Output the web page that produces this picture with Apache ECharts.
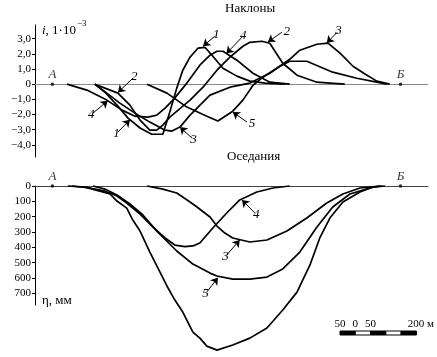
<!DOCTYPE html>
<html><head><meta charset="utf-8">
<script src="https://cdn.jsdelivr.net/npm/echarts@6/dist/echarts.min.js"></script>
<style>html,body{margin:0;padding:0;background:#fff}#c{width:437px;height:357px}</style>
</head><body><div id="c"></div>
<script>
// ---- Data (x in metres from point A) ----
// Tilts (Наклоны), i × 10^-3
const tiltX1 = [134,166,207,239,277,314,349,371,393,412,435,460,482,507,539,583,624,672,735];
const tiltY1 = [0,-0.53,-1.45,-2.24,-2.89,-3.3,-3.3,-1.84,-0.26,0.92,1.78,2.37,2.43,1.84,1.05,0.53,0.2,0.07,0];
const tiltX2 = [134,166,207,245,277,308,330,349,371,435,476,520,561,602,624,662,687,728,773,836,877,924];
const tiltY2 = [0,-0.26,-0.59,-1.38,-2.37,-3.03,-3.03,-2.7,-2.17,-1.05,-0.2,0.92,1.78,2.5,2.76,2.83,2.7,1.38,0.59,0.13,0.07,0];
const tiltX3 = [134,172,213,261,308,356,378,403,435,498,561,624,687,750,782,836,871,909,950,984,1025,1066];
const tiltY3 = [0,-0.59,-1.25,-1.91,-2.5,-3.03,-3.09,-2.83,-2.04,-0.72,-0.2,0.07,0.72,1.64,2.24,2.63,2.7,2.04,1.18,0.72,0.2,0];
const tiltX4 = [46,109,172,220,261,302,330,356,381,425,466,498,520,539,583,634,687,750];
const tiltY4 = [0,-0.39,-1.05,-1.71,-2.11,-2.17,-2.04,-1.58,-1.05,0.07,1.25,1.91,2.17,2.17,1.58,0.72,0.13,0];
const tiltX5 = [299,362,425,488,523,570,602,634,665,719,750,804,886,962,1025,1057];
const tiltY5 = [0,-0.59,-1.51,-2.11,-2.43,-1.78,-1.05,-0.07,0.46,1.18,1.51,1.51,0.79,0.39,0.13,0];

// Subsidence (Оседания), η mm
const subX3 = [299,349,393,435,457,498,520,545,570,624,678,741,804,867,918,972,1035];
const subY3 = [0,20,46,104,137,202,261,307,339,365,352,294,209,111,52,13,0];
const subX4 = [62,119,166,204,235,277,318,356,387,419,444,466,507,551,592,646,697,750];
const subY4 = [0,13,33,65,111,183,268,339,385,395,391,372,274,176,91,39,13,0];
const subX5 = [128,166,204,245,286,330,393,444,498,520,570,624,678,728,782,836,886,940,1013,1051];
const subY5 = [0,20,59,117,189,294,424,509,568,587,607,607,594,541,431,267,137,52,7,0];
const subX7 = [49,103,150,182,204,235,254,277,308,340,362,387,412,444,466,488,520,570,624,678,728,773,814,845,877,918,972,1013,1041];
const subY7 = [0,7,33,52,98,144,222,294,431,561,652,744,822,953,992,1044,1070,1037,992,926,809,692,515,339,209,104,39,7,0];

// Tick labels
const tiltTicks = [-4,-3,-2,-1,0,1,2,3];
const subTicks = [0,100,200,300,400,500,600,700];
const scaleTicks = [-50,0,50,200];
const scaleEdges = [-50,0,50,100,150,200];

// End points A and Б
const pointNames = ['A','Б'];
const pointX = [0,1100];

// Curve annotations: [label, tailX, tailY, tipX, tipY]
const tiltNotes = [
  ['1',513,3.16,476,2.5],
  ['4',599,3.09,550,2.02],
  ['2',725,3.42,681,2.78],
  ['3',900,3.42,867,2.72],
  ['5',615,-2.5,570,-1.84],
  ['2',254,0.39,207,-0.55],
  ['4',128,-1.91,175,-1.1],
  ['1',207,-3.16,245,-2.35],
  ['3',441,-3.55,403,-2.83]
];
const subNotes = [
  ['4',640,176,599,91],
  ['3',551,450,592,352],
  ['5',488,691,523,598],
  ['7',789,874,741,780]
];

// ---- Build ----
const SERIF = '"Liberation Serif","DejaVu Serif",serif';
const zip = (xs, ys) => xs.map((x, i) => [x, ys[i]]);
const fmtTilt = v => v === 0 ? '0' : (v < 0 ? '\u2212' : '') + Math.abs(v).toFixed(1).replace('.', ',');

function curve(xs, ys, gi) {
  return {
    type: 'line', xAxisIndex: gi, yAxisIndex: gi, data: zip(xs, ys),
    symbol: 'none', showSymbol: false, clip: false, animation: false, silent: true,
    lineStyle: { color: '#000', width: 1.7 }
  };
}
function notesLine(notes) {
  return {
    silent: true, animation: false, symbol: ['none', 'arrow'], symbolSize: 7,
    lineStyle: { color: '#000', width: 1, type: 'solid' },
    emphasis: { disabled: true },
    label: { show: true, position: 'start', distance: 2, formatter: p => p.name,
      fontFamily: SERIF, fontStyle: 'italic', fontSize: 13, color: '#000' },
    data: notes.map(n => [{ name: n[0], coord: [n[1], n[2]] }, { coord: [n[3], n[4]] }])
  };
}
function endPoints(gi, notes) {
  return {
    type: 'scatter', xAxisIndex: gi, yAxisIndex: gi, clip: false, animation: false, silent: true,
    symbolSize: 3.5, itemStyle: { color: '#000' },
    label: { show: true, position: 'top', distance: 1, formatter: p => p.name,
      fontFamily: SERIF, fontStyle: 'italic', fontSize: 13, color: '#000' },
    data: pointX.map((x, i) => ({ name: pointNames[i], value: [x, 0] })),
    markLine: notesLine(notes)
  };
}

const xBase = {
  type: 'value', min: -55, max: 1187,
  axisTick: { show: false }, axisLabel: { show: false }, splitLine: { show: false }
};
const yLabel = { fontFamily: SERIF, fontSize: 11, color: '#000', margin: 4 };
const plain = { fontFamily: SERIF, fontSize: 13, fontWeight: 'normal', color: '#000' };

const option = {
  backgroundColor: '#fff',
  animation: false,
  title: [
    { text: 'Наклоны', left: 225, top: 2, padding: 0, textStyle: plain },
    { text: 'Оседания', left: 227, top: 150, padding: 0, textStyle: plain },
    { text: '{it|i}{n|, 1·10}{sup|\u22123}', left: 42, top: 18, padding: 0,
      textStyle: { fontWeight: 'normal', rich: {
        it: { fontFamily: SERIF, fontStyle: 'italic', fontWeight: 'normal', fontSize: 13, color: '#000', lineHeight: 19, verticalAlign: 'bottom' },
        n: { fontFamily: SERIF, fontWeight: 'normal', fontSize: 13, color: '#000', lineHeight: 19, verticalAlign: 'bottom' },
        sup: { fontFamily: SERIF, fontWeight: 'normal', fontSize: 9, color: '#000', verticalAlign: 'top', padding: [1, 0, 0, 1] }
      } } },
    { text: 'η, мм', left: 42, top: 294, padding: 0, textStyle: plain }
  ],
  grid: [
    { left: 35, right: 9, top: 25, height: 132 },
    { left: 35, right: 9, top: 186, height: 119 },
    { left: 340, width: 79, top: 331, height: 4 }
  ],
  xAxis: [
    Object.assign({ gridIndex: 0, axisLine: { onZero: true, lineStyle: { color: '#8a8a8a', width: 1 } } }, xBase),
    Object.assign({ gridIndex: 1, position: 'top', axisLine: { onZero: true, lineStyle: { color: '#444', width: 1 } } }, xBase),
    { gridIndex: 2, type: 'value', min: -50, max: 200, position: 'top',
      axisLine: { show: false }, axisTick: { show: false }, splitLine: { show: false },
      axisLabel: { customValues: scaleTicks, margin: 1, fontFamily: SERIF, fontSize: 11, color: '#000',
        formatter: v => v === 200 ? '{a|200 м}' : String(Math.abs(v)),
        rich: { a: { fontFamily: SERIF, fontSize: 11, color: '#000', padding: [0, 0, 0, 9] } } } }
  ],
  yAxis: [
    { gridIndex: 0, type: 'value', min: -4.8, max: 3.9,
      axisLine: { show: true, onZero: false, lineStyle: { color: '#000', width: 1 } },
      axisTick: { show: true, customValues: tiltTicks, length: 3, lineStyle: { color: '#000' } },
      axisLabel: Object.assign({ customValues: tiltTicks, formatter: fmtTilt }, yLabel),
      splitLine: { show: false } },
    { gridIndex: 1, type: 'value', min: 0, max: 776, inverse: true,
      axisLine: { show: true, onZero: false, lineStyle: { color: '#000', width: 1 } },
      axisTick: { show: true, customValues: subTicks, length: 3, lineStyle: { color: '#000' } },
      axisLabel: Object.assign({ customValues: subTicks, formatter: v => String(v) }, yLabel),
      splitLine: { show: false } },
    { gridIndex: 2, type: 'value', min: 0, max: 1, show: false }
  ],
  series: [
    curve(tiltX1, tiltY1, 0),
    curve(tiltX2, tiltY2, 0),
    curve(tiltX3, tiltY3, 0),
    curve(tiltX4, tiltY4, 0),
    curve(tiltX5, tiltY5, 0),
    endPoints(0, tiltNotes),
    curve(subX3, subY3, 1),
    curve(subX4, subY4, 1),
    curve(subX5, subY5, 1),
    curve(subX7, subY7, 1),
    endPoints(1, subNotes),
    {
      type: 'custom', xAxisIndex: 2, yAxisIndex: 2, animation: false, silent: true, clip: false,
      data: scaleEdges.slice(0, -1).map((s, i) => [s, scaleEdges[i + 1], i % 2]),
      renderItem: (params, api) => {
        const p0 = api.coord([api.value(0), 1]);
        const p1 = api.coord([api.value(1), 0]);
        return { type: 'rect', shape: { x: p0[0], y: p0[1], width: p1[0] - p0[0], height: p1[1] - p0[1] },
          style: { fill: api.value(2) ? '#fff' : '#000', stroke: '#000', lineWidth: 1 } };
      }
    }
  ]
};

const chart = echarts.init(document.getElementById('c'), null, { renderer: 'canvas' });
chart.setOption(option);
</script></body></html>
